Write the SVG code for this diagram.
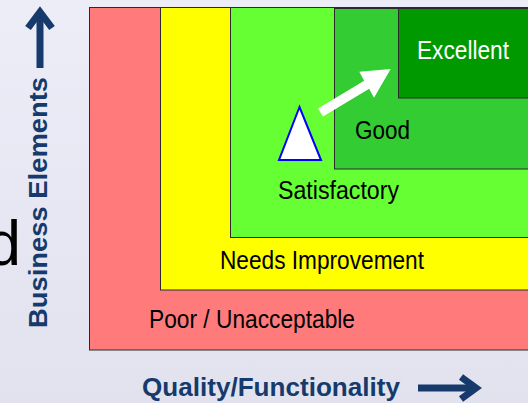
<svg xmlns="http://www.w3.org/2000/svg" width="528" height="403" viewBox="0 0 528 403">
<defs>
<linearGradient id="bg" x1="0" y1="0" x2="0" y2="1">
<stop offset="0" stop-color="#ededf8"/>
<stop offset="1" stop-color="#e2e2ef"/>
</linearGradient>
</defs>
<style>
.zone{stroke:#2a2a2a;stroke-width:1}
.lbl{font-family:"Liberation Sans",Arial,sans-serif;font-size:26.5px;fill:#000}
.axis{font-family:"Liberation Sans",Arial,sans-serif;font-weight:bold;font-size:26px;fill:#153a6b}
.axarrow{fill:none;stroke:#153a6b;stroke-width:7}
</style>
<rect x="0" y="0" width="528" height="403" fill="url(#bg)"/>
<text x="-14" y="265" font-family="Liberation Sans, Arial, sans-serif" font-size="63" fill="#000">d</text>
<g id="poor">
<rect class="zone" x="89.5" y="7.5" width="450" height="342.5" fill="#ff7b7b"/>
<text class="lbl" x="149" y="328" textLength="206" lengthAdjust="spacingAndGlyphs">Poor / Unacceptable</text>
</g>
<g id="needs-improvement">
<rect class="zone" x="160.5" y="7.5" width="380" height="282.5" fill="#ffff00"/>
<text class="lbl" x="220" y="269" textLength="204" lengthAdjust="spacingAndGlyphs">Needs Improvement</text>
</g>
<g id="satisfactory">
<rect class="zone" x="230.5" y="7.5" width="310" height="230" fill="#66ff33"/>
<text class="lbl" x="278" y="199" textLength="121" lengthAdjust="spacingAndGlyphs">Satisfactory</text>
</g>
<g id="good">
<rect class="zone" x="334.5" y="8.5" width="210" height="160.5" fill="#33cc33"/>
<text class="lbl" x="355" y="139" textLength="55" lengthAdjust="spacingAndGlyphs">Good</text>
</g>
<g id="excellent">
<rect class="zone" x="398.5" y="8.5" width="140" height="89.5" fill="#009900"/>
<text class="lbl" x="417" y="59" textLength="92" lengthAdjust="spacingAndGlyphs" style="fill:#fff">Excellent</text>
</g>
<g id="marker-triangle">
<polygon points="299.5,107 279,160 321,160" fill="#fff" stroke="#0000ff" stroke-width="2"/>
</g>
<g id="connectors">
<polygon points="318,108.5 364.2,80.7 359.3,71.7 390.7,69 374,97.7 369.2,88.7 323,116.5" fill="#fff"/>
</g>
<g id="y-axis">
<text class="axis" transform="translate(47,328) rotate(-90)" textLength="251" lengthAdjust="spacingAndGlyphs">Business Elements</text>
<line class="axarrow" x1="40" y1="68" x2="40" y2="12"/>
<polyline class="axarrow" points="28,28 40,12 52,28" stroke-linejoin="miter"/>
</g>
<g id="x-axis">
<text class="axis" x="142" y="396" textLength="258" lengthAdjust="spacingAndGlyphs">Quality/Functionality</text>
<line class="axarrow" x1="418" y1="388" x2="474" y2="388"/>
<polyline class="axarrow" points="461,377 476,388 461,399" stroke-linejoin="miter"/>
</g>
</svg>
